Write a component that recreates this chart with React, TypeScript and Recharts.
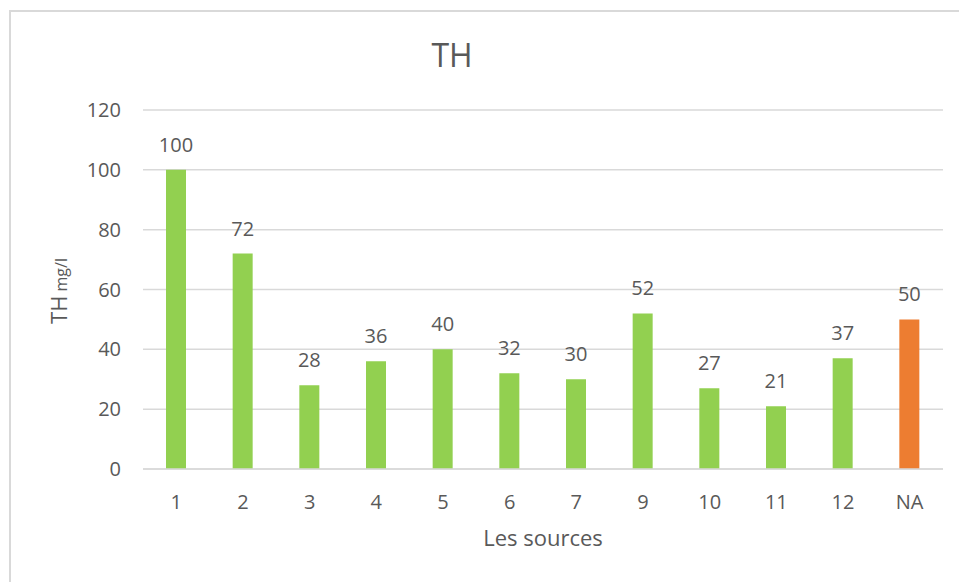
import React from "react";
import { BarChart, Bar, XAxis, YAxis, CartesianGrid, Cell, LabelList, Label } from "recharts";

const categories = ["1", "2", "3", "4", "5", "6", "7", "9", "10", "11", "12", "NA"];
const values = [100, 72, 28, 36, 40, 32, 30, 52, 27, 21, 37, 50];
const yTicks = [0, 20, 40, 60, 80, 100, 120];
const barColors = ["#92D050", "#92D050", "#92D050", "#92D050", "#92D050", "#92D050", "#92D050", "#92D050", "#92D050", "#92D050", "#92D050", "#ED7D31"];

const data = categories.map((c, i) => ({ name: c, value: values[i] }));

const FONT = "'Open Sans', sans-serif";
const TEXT = "#595959";

const YLabel = () => (
  <text
    x={67}
    y={291}
    textAnchor="middle"
    transform="rotate(-90, 67, 291)"
    fill={TEXT}
    fontFamily={FONT}
  >
    <tspan fontSize={22}>TH</tspan>
    <tspan fontSize={16}> mg/l</tspan>
  </text>
);

const XLabel = (props: any) => {
  const vb = props.viewBox || { x: 143, y: 469, width: 800, height: 30 };
  return (
    <text
      x={vb.x + vb.width / 2}
      y={vb.y + vb.height + 47}
      textAnchor="middle"
      fill={TEXT}
      fontFamily={FONT}
      fontSize={22}
    >
      Les sources
    </text>
  );
};

export default function App() {
  return (
    <div style={{ position: "absolute", left: 0, top: 0, width: 959, height: 582, overflow: "hidden", background: "#fff" }}>
      <div
        style={{
          position: "absolute",
          left: 9,
          top: 10,
          width: 1100,
          height: 1100,
          border: "2px solid #d9d9d9",
          boxSizing: "border-box",
        }}
      />
      <div
        style={{
          position: "absolute",
          left: 352,
          top: 33,
          width: 200,
          textAlign: "center",
          fontFamily: FONT,
          fontSize: 32,
          lineHeight: "44px",
          color: TEXT,
        }}
      >
        TH
      </div>
      <div style={{ position: "absolute", left: 0, top: 0 }}>
        <BarChart
          width={959}
          height={582}
          data={data}
          margin={{ top: 110, right: 16, bottom: 83, left: 0 }}
          barCategoryGap={0}
        >
          <CartesianGrid vertical={false} stroke="#d9d9d9" strokeWidth={1.5} />
          <XAxis
            dataKey="name"
            height={30}
            axisLine={{ stroke: "#d9d9d9", strokeWidth: 1.5 }}
            tickLine={false}
            tickMargin={20}
            tick={{ fill: TEXT, fontFamily: FONT, fontSize: 20 }}
            interval={0}
          >
            <Label content={<XLabel />} />
          </XAxis>
          <YAxis
            width={143}
            domain={[0, 120]}
            ticks={yTicks}
            axisLine={false}
            tickLine={false}
            tickMargin={16}
            tick={{ fill: TEXT, fontFamily: FONT, fontSize: 20 }}
            interval={0}
          >
            <Label content={<YLabel />} />
          </YAxis>
          <Bar dataKey="value" barSize={20} isAnimationActive={false}>
            {data.map((d, i) => (
              <Cell key={d.name} fill={barColors[i]} />
            ))}
            <LabelList
              dataKey="value"
              position="top"
              offset={18}
              fill={TEXT}
              fontFamily={FONT}
              fontSize={20}
            />
          </Bar>
        </BarChart>
      </div>
    </div>
  );
}
